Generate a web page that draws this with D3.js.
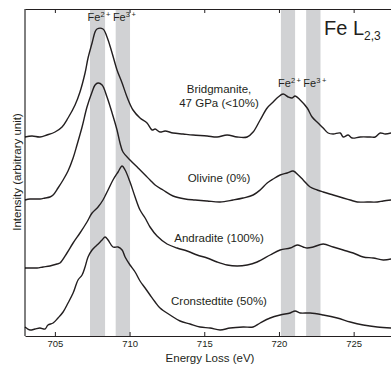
<!DOCTYPE html>
<html>
<head>
<meta charset="utf-8">
<script src="https://cdn.jsdelivr.net/npm/d3@7"></script>
<style>
  body { margin: 0; background: #fff; }
  text { font-family: "Liberation Sans", Arial, Helvetica, sans-serif; fill: #231f20; }
</style>
</head>
<body>
<div id="chart"></div>
<script>
// spectra: [energy loss (eV), intensity (arbitrary)]
var bridgmanite = [
  [703.00,199],[703.47,200],[704.00,199],[704.47,201],[705.01,204],[705.48,209],[705.88,218],
  [706.35,231],[706.68,244],[707.02,263],[707.22,278],[707.49,293],[707.69,304],[707.82,307],
  [708.22,307],[708.49,299],[708.83,283],[709.16,266],[709.50,253],[709.83,239],[710.23,226],
  [710.70,218],[711.17,213],[711.51,206],[711.71,207],[712.04,204],[712.38,205],[712.91,203],
  [713.58,202],[714.25,201],[715.19,200],[715.86,199],[716.53,201],[717.20,199],[717.87,199],
  [718.27,204],[718.74,216],[719.21,228],[719.61,234],[719.95,239],[720.28,242],[720.62,239],
  [720.88,238],[721.08,240],[721.42,236],[721.89,228],[722.22,219],[722.62,213],[722.96,208],
  [723.29,203],[723.63,202],[724.10,203],[724.30,199],[724.63,201],[724.90,198],[725.44,199],
  [726.11,199],[726.44,199],[726.78,203],[727.11,202],[727.51,203]
];
var olivine = [
  [703.00,136],[703.33,137],[703.67,137],[704.00,137],[704.34,138],[704.67,139],[704.88,141],
  [705.21,148],[705.55,156],[705.88,165],[706.22,178],[706.48,191],[706.82,209],[707.15,229],
  [707.49,244],[707.69,251],[707.89,253],[708.16,251],[708.49,239],[708.83,223],[709.16,206],
  [709.36,193],[709.56,184],[710.03,176],[710.57,168],[711.04,161],[711.37,156],[711.71,151],
  [712.24,146],[712.91,140],[713.72,137],[714.39,136],[715.19,135],[716.06,134],[716.93,136],
  [717.60,138],[718.27,141],[718.74,146],[719.21,153],[719.61,157],[720.08,161],[720.55,163],
  [720.95,165],[721.29,161],[721.62,156],[722.09,149],[722.56,146],[722.96,144],[723.63,141],
  [724.30,138],[724.77,136],[725.24,134],[725.91,134],[726.58,134],[726.98,135],[727.51,136]
];
var andradite = [
  [703.00,68],[703.33,68],[703.80,68],[704.21,69],[704.67,70],[705.14,72],[705.34,73],
  [705.81,83],[706.22,93],[706.68,103],[707.15,114],[707.49,123],[707.89,129],[708.22,136],
  [708.56,146],[708.89,156],[709.23,164],[709.50,170],[709.70,166],[710.03,154],[710.37,139],
  [710.70,126],[711.04,118],[711.37,109],[711.84,100],[712.51,92],[713.18,88],[713.85,85],
  [714.52,81],[715.19,78],[715.86,74],[716.53,71],[717.20,70],[717.87,71],[718.54,74],
  [719.41,81],[720.08,86],[720.75,88],[721.22,91],[721.62,89],[721.89,88],[722.29,89],
  [722.96,92],[723.63,89],[724.30,86],[724.97,83],[725.64,79],[726.31,78],[726.98,76],[727.51,77]
];
var cronstedtite = [
  [703.00,9],[703.33,6],[703.67,7],[704.00,8],[704.34,7],[704.54,11],[704.88,13],[705.21,18],
  [705.55,24],[705.88,33],[706.22,43],[706.55,56],[706.82,61],[707.02,69],[707.22,79],
  [707.49,86],[707.82,91],[708.16,96],[708.36,99],[708.56,96],[708.89,89],[709.23,89],
  [709.50,86],[709.70,79],[710.03,71],[710.37,64],[710.70,55],[711.04,48],[711.37,41],
  [711.71,34],[712.04,28],[712.71,21],[713.38,15],[714.05,12],[714.72,9],[715.39,8],
  [716.06,6],[716.73,8],[717.60,9],[718.27,9],[718.74,13],[719.41,18],[720.08,21],[720.75,23],
  [721.08,25],[721.42,23],[722.09,23],[722.96,21],[723.90,18],[724.77,14],[725.64,11],
  [726.58,9],[727.51,8]
];

// shaded bands [from, to, ion]
var bands = [
  [707.35, 708.36, "2"], [709.07, 710.03, "3"],
  [720.13, 721.08, "2"], [721.82, 722.78, "3"]
];
var xTicks = [705, 710, 715, 720, 725];
var sampleNames = ["Bridgmanite,", "47 GPa (<10%)", "Olivine (0%)", "Andradite (100%)", "Cronstedtite (50%)"];

var width = 391, height = 369;
var margin = { top: 9, right: 0, bottom: 33, left: 25 };

var svg = d3.select("#chart").append("svg")
  .attr("width", width)
  .attr("height", height);

var x = d3.scaleLinear().domain([703, 727.5]).range([margin.left, width - margin.right]);
var y = d3.scaleLinear().domain([0, 327]).range([height - margin.bottom, margin.top]);

// bands
svg.append("g").selectAll("rect")
  .data(bands)
  .enter()
  .append("rect")
  .attr("x", d => x(d[0]))
  .attr("width", d => x(d[1]) - x(d[0]))
  .attr("y", margin.top)
  .attr("height", height - margin.bottom - margin.top)
  .style("fill", "#d1d2d4");

// Fe2+ / Fe3+ labels, first pair at the top, second pair over the 720 eV peak
var labelY = [20.5, 20.5, 86.5, 86.5];
var ionLab = svg.append("g").selectAll("text")
  .data(bands)
  .enter()
  .append("text")
  .attr("x", d => (x(d[0]) + x(d[1])) / 2 + 1.5)
  .attr("y", (d, i) => labelY[i])
  .attr("text-anchor", "middle")
  .style("font-size", "11px");
ionLab.append("tspan").text("Fe");
ionLab.append("tspan")
  .attr("dy", -4)
  .style("font-size", "7.5px")
  .text(d => d[2] + "\u2009+");

// spectra
var line = d3.line()
  .curve(d3.curveCatmullRom.alpha(0.5))
  .x(d => x(d[0]))
  .y(d => y(d[1]));

svg.append("g").selectAll("path")
  .data([bridgmanite, olivine, andradite, cronstedtite])
  .enter()
  .append("path")
  .attr("d", line)
  .style("fill", "none")
  .style("stroke", "#231f20")
  .style("stroke-width", 1.4)
  .style("stroke-linejoin", "round");

// sample names
var nameY = [92.5, 106.5, 182, 242, 305];
svg.append("g").selectAll("text")
  .data(sampleNames)
  .enter()
  .append("text")
  .attr("x", 219)
  .attr("y", (d, i) => nameY[i])
  .attr("text-anchor", "middle")
  .style("font-size", "11.5px")
  .text(d => d);

// axes
svg.append("g")
  .attr("transform", "translate(0," + (height - margin.bottom) + ")")
  .call(d3.axisBottom(x).tickValues(xTicks).tickSizeInner(-4).tickSizeOuter(0).tickPadding(4))
  .call(g => g.selectAll("text").style("font-size", "9.5px").style("font-family", "Liberation Sans, Arial, sans-serif").attr("fill", "#231f20"));

svg.append("g")
  .attr("transform", "translate(0," + margin.top + ")")
  .call(d3.axisTop(x).tickValues(xTicks).tickSizeInner(-4).tickSizeOuter(0).tickFormat(""));

svg.append("line")
  .attr("x1", margin.left).attr("x2", margin.left)
  .attr("y1", margin.top).attr("y2", height - margin.bottom)
  .style("stroke", "#000");

svg.selectAll(".domain, .tick line").style("stroke", "#231f20");

// axis titles
svg.append("text")
  .attr("x", 210)
  .attr("y", 361.5)
  .attr("text-anchor", "middle")
  .style("font-size", "11.5px")
  .text("Energy Loss (eV)");

svg.append("text")
  .attr("transform", "translate(21,172)rotate(-90)")
  .attr("text-anchor", "middle")
  .style("font-size", "11.5px")
  .text("Intensity (arbitrary unit)");

// Fe L2,3 title
var title = svg.append("text")
  .attr("x", 324)
  .attr("y", 35)
  .style("font-size", "20px");
title.append("tspan").text("Fe L");
title.append("tspan")
  .attr("dy", 4.5)
  .style("font-size", "12px")
  .text("2,3");
</script>
</body>
</html>
